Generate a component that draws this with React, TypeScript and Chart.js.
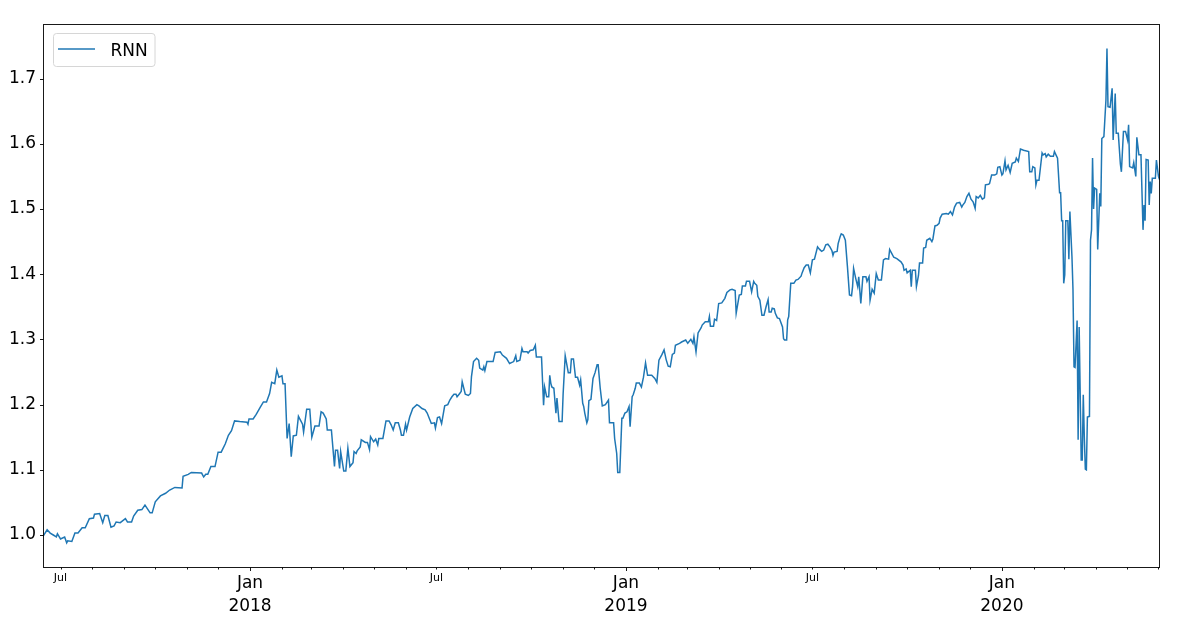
import React, { useEffect, useRef } from "react";
import { Chart, registerables } from "chart.js";

Chart.register(...registerables);

// ---------------- data ----------------
const START_DATE = "2017-06-14";
const seriesLabel = "RNN";
const seriesColor = "#1f77b4";

// day offsets from START_DATE
const dayOffsets = [
  0, 4, 7, 10, 13, 14, 17, 21, 23, 24,
  28, 31, 34, 38, 41, 45, 49, 50, 55, 58,
  60, 63, 66, 69, 71, 75, 80, 82, 86, 88,
  92, 96, 99, 104, 106, 109, 114, 119, 123, 128,
  135, 136, 141, 144, 154, 156, 158, 160, 163, 167,
  170, 173, 177, 180, 183, 186, 191, 198, 199, 200,
  204, 207, 211, 214, 217, 220, 222, 225, 227, 229,
  232, 233, 235, 237, 239, 241, 243, 246, 248, 252,
  253, 256, 259, 261, 264, 268, 270, 272, 275, 276,
  280, 283, 284, 286, 288, 289, 292, 294, 296, 298,
  301, 302, 304, 305, 308, 309, 313, 315, 317, 318,
  321, 323, 325, 326, 330, 333, 336, 338, 340, 342,
  345, 347, 348, 350, 352, 353, 356, 359, 363, 365,
  368, 371, 373, 375, 377, 380, 381, 383, 385, 387,
  388, 390, 393, 395, 397, 399, 401, 402, 404, 406,
  407, 410, 413, 415, 416, 418, 421, 423, 424, 427,
  428, 429, 431, 437, 439, 444, 446, 450, 453, 457,
  459, 460, 463, 465, 466, 470, 471, 473, 476, 478,
  479, 484, 486, 487, 489, 491, 492, 493, 494, 496,
  498, 499, 501, 504, 505, 507, 510, 512, 513, 515,
  517, 519, 521, 522, 524, 525, 526, 528, 529, 530,
  532, 534, 536, 538, 539, 541, 543, 546, 549, 550,
  554, 555, 557, 558, 560, 562, 563, 565, 567, 569,
  570, 572, 573, 575, 576, 579, 581, 583, 585, 587,
  591, 594, 596, 598, 601, 603, 605, 607, 609, 611,
  613, 614, 618, 620, 624, 626, 629, 631, 632, 634,
  636, 639, 640, 643, 646, 647, 648, 651, 652, 654,
  656, 659, 662, 664, 667, 669, 672, 673, 676, 678,
  679, 682, 683, 686, 688, 690, 691, 693, 694, 696,
  698, 700, 702, 704, 705, 707, 708, 710, 711, 713,
  715, 718, 719, 720, 722, 723, 724, 726, 729, 731,
  733, 736, 737, 739, 741, 743, 745, 747, 749, 752,
  754, 756, 758, 760, 762, 764, 766, 767, 768, 771,
  772, 774, 775, 777, 779, 781, 783, 785, 786, 787,
  789, 791, 792, 794, 796, 799, 800, 802, 803, 805,
  807, 809, 811, 814, 816, 818, 821, 822, 824, 826,
  829, 833, 835, 836, 838, 839, 842, 843, 844, 847,
  848, 850, 851, 854, 855, 857, 858, 861, 863, 864,
  866, 868, 870, 871, 873, 877, 879, 881, 883, 885,
  887, 890, 892, 893, 895, 897, 899, 901, 903, 904,
  905, 906, 908, 910, 912, 914, 915, 918, 919, 921,
  924, 926, 927, 929, 931, 932, 934, 935, 937, 939,
  941, 944, 945, 947, 949, 952, 957, 958, 960, 961,
  963, 964, 965, 967, 970, 971, 973, 974, 976, 978,
  981, 982, 985, 987, 988, 989, 990, 991, 992, 993,
  995, 996, 997, 999, 1000, 1001, 1002, 1004, 1005, 1006,
  1008, 1009, 1010, 1011, 1012, 1013, 1014, 1016, 1017, 1018,
  1019, 1020, 1021, 1023, 1024, 1026, 1027, 1028, 1030, 1032,
  1033, 1034, 1036, 1038, 1039, 1041, 1042, 1044, 1046, 1047,
  1049, 1051, 1053, 1054, 1055, 1058, 1059, 1061, 1062, 1064,
  1066, 1068, 1069, 1070, 1071, 1073, 1074, 1075, 1076, 1077,
  1080, 1081, 1083, 1084,
];

const rnnValues = [
  0.998, 1.008, 1.003, 1.0, 0.997, 1.002, 0.994, 0.997, 0.988, 0.991,
  0.99, 1.003, 1.003, 1.011, 1.011, 1.025, 1.026, 1.032, 1.033, 1.019,
  1.03, 1.03, 1.012, 1.014, 1.02, 1.019, 1.025, 1.02, 1.02, 1.029,
  1.038, 1.039, 1.046, 1.034, 1.034, 1.051, 1.06, 1.064, 1.069, 1.073,
  1.072, 1.09, 1.093, 1.096, 1.095, 1.089, 1.093, 1.093, 1.105, 1.105,
  1.127, 1.127, 1.14, 1.153, 1.16, 1.175, 1.174, 1.173, 1.17, 1.178,
  1.178, 1.185, 1.196, 1.204, 1.204, 1.217, 1.234, 1.232, 1.253, 1.242,
  1.244, 1.232, 1.232, 1.148, 1.171, 1.12, 1.152, 1.153, 1.182, 1.17,
  1.158, 1.193, 1.193, 1.15, 1.167, 1.167, 1.189, 1.187, 1.178, 1.161,
  1.161, 1.105, 1.13, 1.13, 1.102, 1.128, 1.098, 1.098, 1.133, 1.105,
  1.111, 1.128, 1.125, 1.129, 1.135, 1.146, 1.142, 1.142, 1.131, 1.151,
  1.143, 1.147, 1.138, 1.148, 1.148, 1.175, 1.175, 1.169, 1.161, 1.172,
  1.172, 1.161, 1.153, 1.153, 1.17, 1.161, 1.181, 1.194, 1.2, 1.198,
  1.194, 1.192, 1.187, 1.179, 1.171, 1.172, 1.164, 1.18, 1.181, 1.171,
  1.18, 1.198, 1.2, 1.207, 1.212, 1.216, 1.216, 1.212, 1.216, 1.22,
  1.235, 1.216, 1.214, 1.217, 1.243, 1.266, 1.271, 1.268, 1.256, 1.253,
  1.258, 1.252, 1.266, 1.266, 1.28, 1.281, 1.276, 1.271, 1.263, 1.266,
  1.275, 1.266, 1.268, 1.286, 1.281, 1.281, 1.279, 1.283, 1.284, 1.291,
  1.273, 1.273, 1.199, 1.227, 1.212, 1.212, 1.245, 1.233, 1.227, 1.225,
  1.187, 1.21, 1.174, 1.174, 1.217, 1.275, 1.249, 1.249, 1.27, 1.27,
  1.242, 1.242, 1.23, 1.238, 1.202, 1.197, 1.187, 1.172, 1.177, 1.206,
  1.208, 1.24, 1.249, 1.261, 1.261, 1.225, 1.198, 1.2, 1.207, 1.172,
  1.172, 1.148, 1.125, 1.096, 1.096, 1.179, 1.179, 1.187, 1.189, 1.197,
  1.166, 1.212, 1.215, 1.225, 1.233, 1.233, 1.227, 1.242, 1.264, 1.245,
  1.245, 1.24, 1.234, 1.268, 1.277, 1.284, 1.269, 1.259, 1.258, 1.277,
  1.279, 1.291, 1.294, 1.296, 1.299, 1.294, 1.3, 1.294, 1.304, 1.281,
  1.31, 1.318, 1.322, 1.327, 1.327, 1.335, 1.32, 1.32, 1.331, 1.329,
  1.355, 1.356, 1.363, 1.372, 1.376, 1.377, 1.375, 1.34, 1.368, 1.369,
  1.382, 1.382, 1.389, 1.389, 1.373, 1.389, 1.386, 1.383, 1.366, 1.36,
  1.337, 1.337, 1.35, 1.361, 1.342, 1.342, 1.348, 1.347, 1.34, 1.333,
  1.332, 1.319, 1.301, 1.299, 1.299, 1.33, 1.335, 1.386, 1.386, 1.391,
  1.392, 1.397, 1.402, 1.41, 1.414, 1.414, 1.402, 1.422, 1.423, 1.442,
  1.438, 1.435, 1.437, 1.445, 1.446, 1.442, 1.436, 1.429, 1.434, 1.435,
  1.447, 1.458, 1.462, 1.46, 1.452, 1.412, 1.368, 1.367, 1.381, 1.409,
  1.394, 1.381, 1.396, 1.355, 1.396, 1.396, 1.389, 1.396, 1.36, 1.377,
  1.371, 1.401, 1.391, 1.391, 1.422, 1.424, 1.423, 1.438, 1.432, 1.426,
  1.424, 1.419, 1.414, 1.406, 1.408, 1.402, 1.406, 1.381, 1.406, 1.406,
  1.381, 1.398, 1.417, 1.417, 1.44, 1.441, 1.452, 1.455, 1.45, 1.454,
  1.474, 1.475, 1.478, 1.486, 1.492, 1.493, 1.492, 1.496, 1.491, 1.503,
  1.509, 1.51, 1.503, 1.506, 1.51, 1.519, 1.524, 1.515, 1.511, 1.506,
  1.501, 1.519, 1.517, 1.521, 1.515, 1.517, 1.537, 1.538, 1.539, 1.552,
  1.552, 1.554, 1.564, 1.565, 1.552, 1.554, 1.574, 1.56, 1.567, 1.556,
  1.57, 1.572, 1.578, 1.573, 1.592, 1.59, 1.588, 1.557, 1.557, 1.565,
  1.563, 1.537, 1.544, 1.544, 1.586, 1.583, 1.585, 1.58, 1.584, 1.581,
  1.581, 1.588, 1.578, 1.525, 1.525, 1.482, 1.482, 1.386, 1.399, 1.482,
  1.482, 1.423, 1.496, 1.427, 1.376, 1.258, 1.257, 1.329, 1.146, 1.319,
  1.115, 1.115, 1.215, 1.15, 1.101, 1.1, 1.181, 1.182, 1.452, 1.468,
  1.578, 1.5, 1.532, 1.53, 1.438, 1.524, 1.504, 1.608, 1.611, 1.667,
  1.746, 1.657, 1.656, 1.685, 1.606, 1.677, 1.616, 1.616, 1.569, 1.557,
  1.619, 1.619, 1.606, 1.629, 1.565, 1.563, 1.571, 1.55, 1.61, 1.583,
  1.583, 1.468, 1.506, 1.482, 1.576, 1.575, 1.506, 1.542, 1.524, 1.547,
  1.547, 1.575, 1.55, 1.545,
];

const yTickValues = [1.0, 1.1, 1.2, 1.3, 1.4, 1.5, 1.6, 1.7];
const monthNames = ["Jan", "Feb", "Mar", "Apr", "May", "Jun", "Jul", "Aug", "Sep", "Oct", "Nov", "Dec"];
const labelledMajorMonth = 0; // Jan (with year)
const labelledMinorMonth = 6; // Jul

const Y_MIN = 0.9494;
const Y_MAX = 1.7837;
const FONT = "'DejaVu Sans', 'Liberation Sans', sans-serif";
const MAJOR_SIZE = 17;
const MINOR_SIZE = 11;

// ---------------- helpers ----------------
const DAY_MS = 86400000;
const startMs = Date.parse(START_DATE + "T00:00:00Z");

type MonthTick = { value: number; month: number; year: number };

function buildMonthTicks(maxDay: number): MonthTick[] {
  const res: MonthTick[] = [];
  const s = new Date(startMs);
  let y = s.getUTCFullYear();
  let m = s.getUTCMonth() + 1;
  for (;;) {
    if (m > 11) {
      m = 0;
      y++;
    }
    const off = (Date.UTC(y, m, 1) - startMs) / DAY_MS;
    if (off > maxDay) break;
    if (off >= 0) res.push({ value: off, month: m, year: y });
    m++;
  }
  return res;
}

export default function App() {
  const canvasRef = useRef<HTMLCanvasElement | null>(null);

  useEffect(() => {
    const canvas = canvasRef.current;
    if (!canvas) return;
    const xMax = dayOffsets[dayOffsets.length - 1];
    const monthTicks = buildMonthTicks(xMax);
    const tickInfo = new Map<number, MonthTick>();
    monthTicks.forEach((t) => tickInfo.set(t.value, t));

    const framePlugin = {
      id: "mplFrame",
      afterDatasetsDraw(chart: any) {
        const ctx = chart.ctx as CanvasRenderingContext2D;
        const area = chart.chartArea;
        const xs = chart.scales.x;
        const ys = chart.scales.y;
        const L = Math.floor(area.left) + 0.5;
        const R = Math.floor(area.right) + 0.5;
        const T = Math.floor(area.top) + 0.5;
        const B = Math.floor(area.bottom) - 0.5;
        ctx.save();
        ctx.strokeStyle = "rgba(0,0,0,0.9)";
        ctx.lineWidth = 1;
        ctx.strokeRect(L, T, R - L, B - T);
        ctx.beginPath();
        yTickValues.forEach((v) => {
          const py = Math.round(ys.getPixelForValue(v)) + 0.5;
          ctx.moveTo(L - 3.5, py);
          ctx.lineTo(L, py);
        });
        monthTicks.forEach((t) => {
          const px = Math.round(xs.getPixelForValue(t.value)) + 0.5;
          const len = t.month === labelledMajorMonth ? 3.5 : 2;
          ctx.moveTo(px, B);
          ctx.lineTo(px, B + len);
        });
        ctx.stroke();
        ctx.restore();
      },
    };

    const legendPlugin = {
      id: "mplLegend",
      afterDraw(chart: any) {
        const ctx = chart.ctx as CanvasRenderingContext2D;
        const area = chart.chartArea;
        const ds = chart.data.datasets[0];
        const bx = Math.floor(area.left) + 10.5;
        const by = Math.floor(area.top) + 9.5;
        const bw = 101.5;
        const bh = 33;
        const r = 3;
        ctx.save();
        ctx.beginPath();
        ctx.moveTo(bx + r, by);
        ctx.lineTo(bx + bw - r, by);
        ctx.quadraticCurveTo(bx + bw, by, bx + bw, by + r);
        ctx.lineTo(bx + bw, by + bh - r);
        ctx.quadraticCurveTo(bx + bw, by + bh, bx + bw - r, by + bh);
        ctx.lineTo(bx + r, by + bh);
        ctx.quadraticCurveTo(bx, by + bh, bx, by + bh - r);
        ctx.lineTo(bx, by + r);
        ctx.quadraticCurveTo(bx, by, bx + r, by);
        ctx.closePath();
        ctx.fillStyle = "rgba(255,255,255,0.8)";
        ctx.fill();
        ctx.strokeStyle = "#d6d6d6";
        ctx.lineWidth = 1;
        ctx.stroke();
        ctx.beginPath();
        ctx.strokeStyle = ds.borderColor;
        ctx.lineWidth = 1.5;
        ctx.moveTo(bx + 4.5, by + 15.5);
        ctx.lineTo(bx + 41.5, by + 15.5);
        ctx.stroke();
        ctx.fillStyle = "#000";
        ctx.font = MAJOR_SIZE + "px " + FONT;
        ctx.textBaseline = "alphabetic";
        ctx.textAlign = "left";
        ctx.fillText(ds.label, bx + 57, by + 22.5);
        ctx.restore();
      },
    };

    const chart = new Chart(canvas, {
      type: "line",
      data: {
        datasets: [
          {
            label: seriesLabel,
            data: dayOffsets.map((d, i) => ({ x: d, y: rnnValues[i] })),
            borderColor: seriesColor,
            backgroundColor: seriesColor,
            borderWidth: 1.5,
            pointRadius: 0,
            pointHoverRadius: 0,
            tension: 0,
            fill: false,
          },
        ],
      },
      options: {
        animation: false,
        responsive: false,
        maintainAspectRatio: false,
        events: [],
        layout: { padding: { left: 0, top: 24, right: 36.5, bottom: 0 } },
        plugins: {
          legend: { display: false },
          tooltip: { enabled: false },
          title: { display: false },
        },
        scales: {
          x: {
            type: "linear",
            min: 0,
            max: xMax,
            grid: { display: false, drawTicks: false },
            border: { display: false },
            afterBuildTicks: (scale: any) => {
              scale.ticks = monthTicks.map((t) => ({ value: t.value }));
            },
            afterFit: (scale: any) => {
              scale.height = 52;
            },
            ticks: {
              autoSkip: false,
              maxRotation: 0,
              minRotation: 0,
              padding: 4,
              color: "#000",
              callback: (value: any) => {
                const t = tickInfo.get(Number(value));
                if (!t) return "";
                if (t.month === labelledMajorMonth) return [monthNames[t.month], String(t.year)];
                if (t.month === labelledMinorMonth) return monthNames[t.month];
                return "";
              },
              font: (ctx: any) => {
                const t = ctx.tick ? tickInfo.get(Number(ctx.tick.value)) : undefined;
                if (t && t.month === labelledMajorMonth) {
                  return { family: FONT, size: MAJOR_SIZE, lineHeight: "23px" };
                }
                return { family: FONT, size: MINOR_SIZE, lineHeight: "13px" };
              },
            },
          },
          y: {
            type: "linear",
            min: Y_MIN,
            max: Y_MAX,
            grid: { display: false, drawTicks: false },
            border: { display: false },
            afterBuildTicks: (scale: any) => {
              scale.ticks = yTickValues.map((v) => ({ value: v }));
            },
            afterFit: (scale: any) => {
              scale.width = 43;
            },
            ticks: {
              padding: 7,
              color: "#000",
              font: { family: FONT, size: MAJOR_SIZE },
              callback: (value: any) => Number(value).toFixed(1),
            },
          },
        },
      },
      plugins: [framePlugin, legendPlugin],
    } as any);

    return () => {
      chart.destroy();
    };
  }, []);

  return (
    <div style={{ position: "absolute", left: 0, top: 0, width: 1196, height: 620, background: "#fff" }}>
      <canvas ref={canvasRef} width={1196} height={620} style={{ display: "block", width: 1196, height: 620 }} />
    </div>
  );
}
